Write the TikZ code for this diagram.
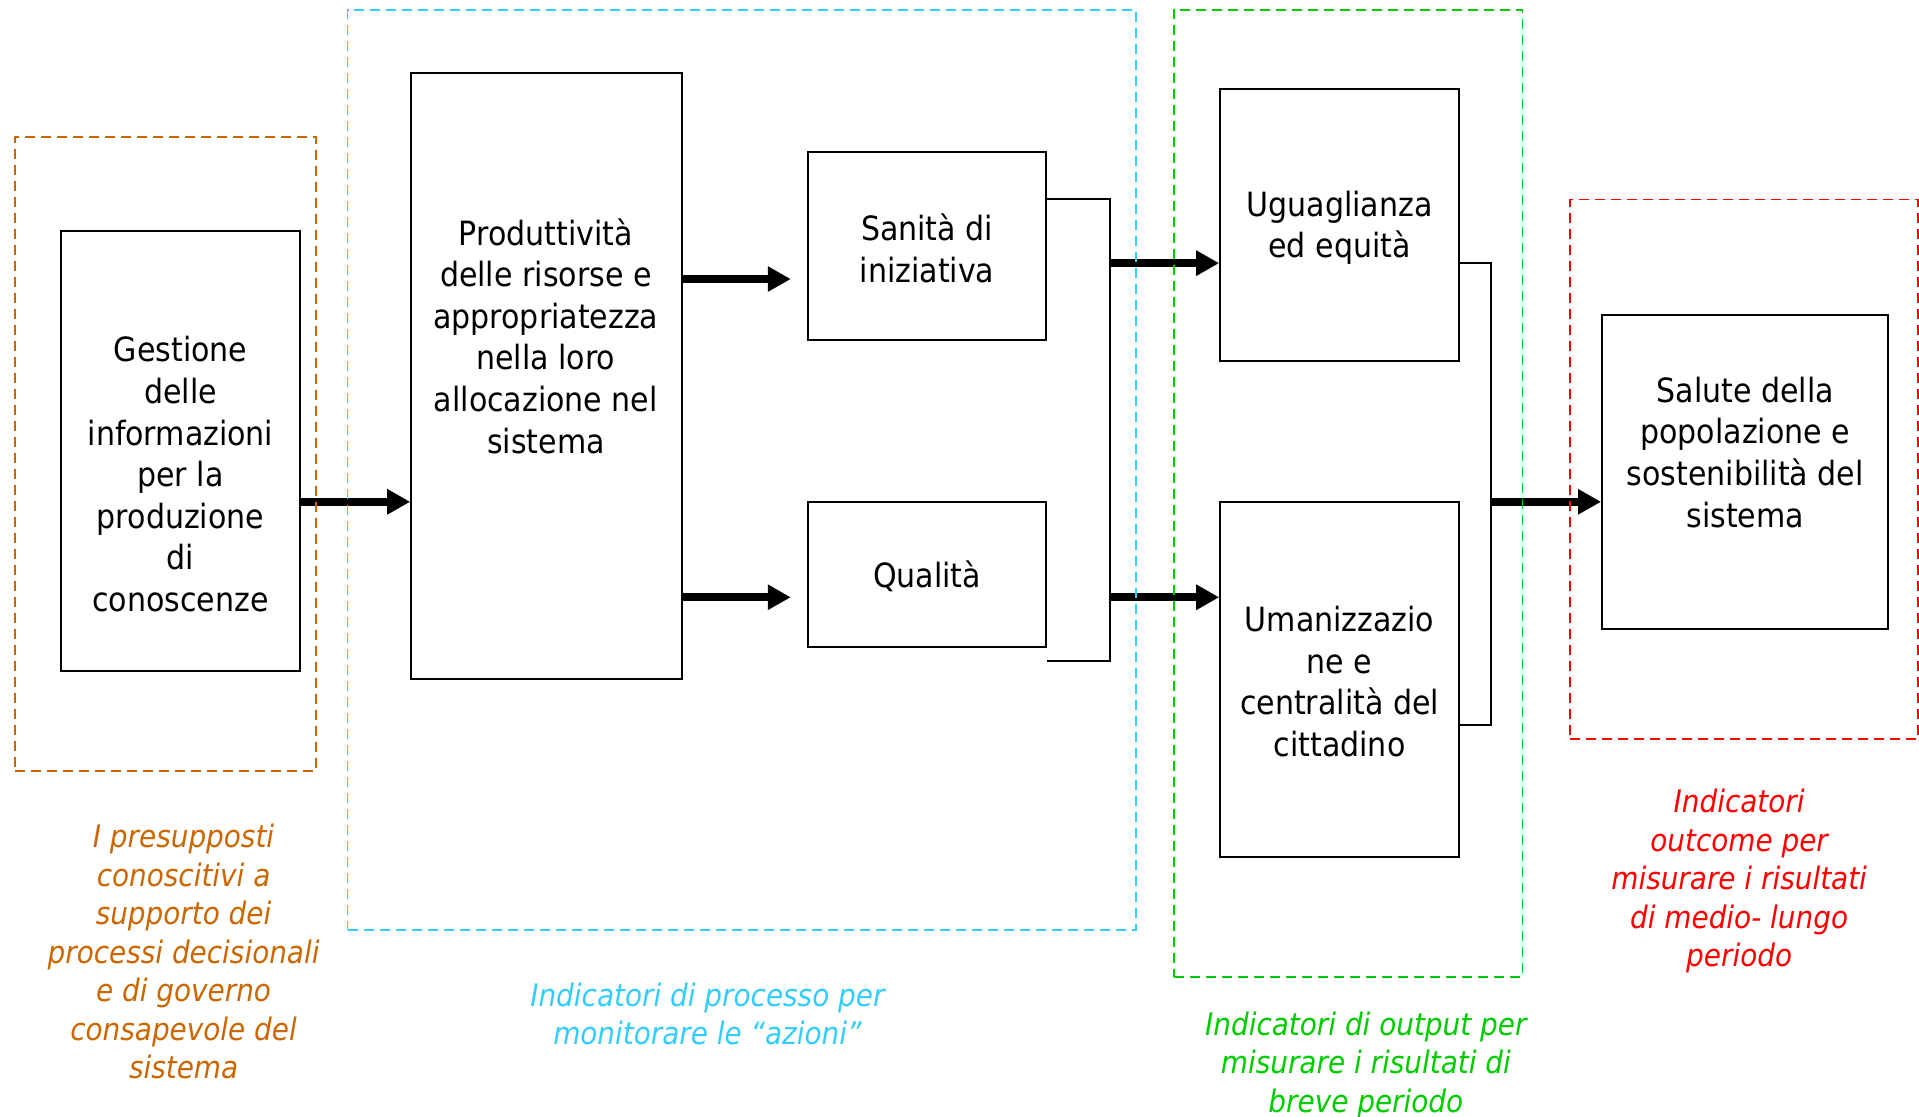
\documentclass[tikz,border=0pt]{standalone}
\usepackage{fontspec}
\setmainfont{DejaVu Sans Condensed}
\usetikzlibrary{arrows.meta,fit}
\definecolor{corange}{RGB}{204,102,0}
\definecolor{cblue}{RGB}{51,204,255}
\definecolor{cgreen}{RGB}{0,204,0}
\definecolor{cred}{RGB}{255,0,0}
\begin{document}
\begin{tikzpicture}[x=1.2239pt,y=-1.2239pt,
  box/.style={draw=black,line width=2pt,inner sep=0pt},
  zone/.style={line width=1.8pt,dash pattern=on 10pt off 6pt,inner sep=0pt},
  boxtext/.style={align=center,font=\fontsize{33.4}{41.6}\selectfont,inner sep=0pt},
  captext/.style={align=center,font=\fontsize{31}{38.5}\selectfont\itshape,inner sep=0pt},
  arr/.style={line width=8pt,-{Triangle[length=23pt,width=24pt]}},
  link/.style={line width=2pt}]
\useasboundingbox (0,0) rectangle (1567.96,912.65);

% boxes
\node[box, fit={(50,189) (245,548)}] (gest) {};
\node[box, fit={(336,60) (557,555)}] (prod) {};
\node[box, fit={(660,124) (855,278)}] (san) {};
\node[box, fit={(660,410) (855,529)}] (qual) {};
\node[box, fit={(997,73) (1192,295)}] (ugu) {};
\node[box, fit={(997,410) (1192,700)}] (uma) {};
\node[box, fit={(1309,257) (1543,514)}] (sal) {};

% box texts
\node[boxtext] (tgest) at (147.5,387.5) {Gestione\\delle\\informazioni\\per la\\produzione\\di\\conoscenze};
\node[boxtext] (tprod) at (446,274.5) {Produttività\\delle risorse e\\appropriatezza\\nella loro\\allocazione nel\\sistema};
\node[boxtext] (tsan) at (757.5,203) {Sanità di\\iniziativa};
\node[boxtext] (tqual) at (757.5,471) {Qualità};
\node[boxtext] (tugu) at (1094.5,186) {Uguaglianza\\ed equità};
\node[boxtext] (tuma) at (1094.5,557) {Umanizzazio\\ne e\\centralità del\\cittadino};
\node[boxtext] (tsal) at (1426,369.5) {Salute della\\popolazione e\\sostenibilità del\\sistema};

% junctions
\coordinate (j1t) at (907,163);
\coordinate (j1b) at (907,540);
\coordinate (j2t) at (1218,215);
\coordinate (j2b) at (1218,592);

% connectors
\draw[arr] (gest.east |- 0,410) -- (prod.west |- 0,410);
\draw[arr, shorten >=16pt] (prod.east |- 0,228) -- (san.west |- 0,228);
\draw[arr, shorten >=16pt] (prod.east |- 0,488) -- (qual.west |- 0,488);
\draw[link] (san.east |- j1t) -- (j1t) -- (j1b) -- (qual.east |- j1b);
\draw[arr] (j1t |- 0,215) -- (ugu.west |- 0,215);
\draw[arr] (j1t |- 0,488) -- (uma.west |- 0,488);
\draw[link] (ugu.east |- j2t) -- (j2t) -- (j2b) -- (uma.east |- j2b);
\draw[arr] (j2t |- 0,410) -- (sal.west |- 0,410);

% zones
\node[zone, draw=corange, fit={(12,112) (258,630)}] (zorange) {};
\node[zone, draw=cblue, fit={(284,8) (928,760)}] (zblue) {};
\node[zone, draw=cgreen, fit={(959,8) (1244,798)}] (zgreen) {};
\node[zone, draw=cred, fit={(1283,163) (1567,604)}] (zred) {};

% captions
\node[captext, text=corange] (corg) at (150,777.5) {I presupposti\\conoscitivi a\\supporto dei\\processi decisionali\\e di governo\\consapevole del\\sistema};
\node[captext, text=cblue] (cblu) at (578,828.5) {Indicatori di processo per\\monitorare le “azioni”};
\node[captext, text=cgreen] (cgrn) at (1116,870.5) {Indicatori di output per\\misurare i risultati di\\breve periodo};
\node[captext, text=cred] (cr) at (1421,720) {Indicatori\\outcome per\\misurare i risultati\\di medio- lungo\\periodo};
\end{tikzpicture}
\end{document}
